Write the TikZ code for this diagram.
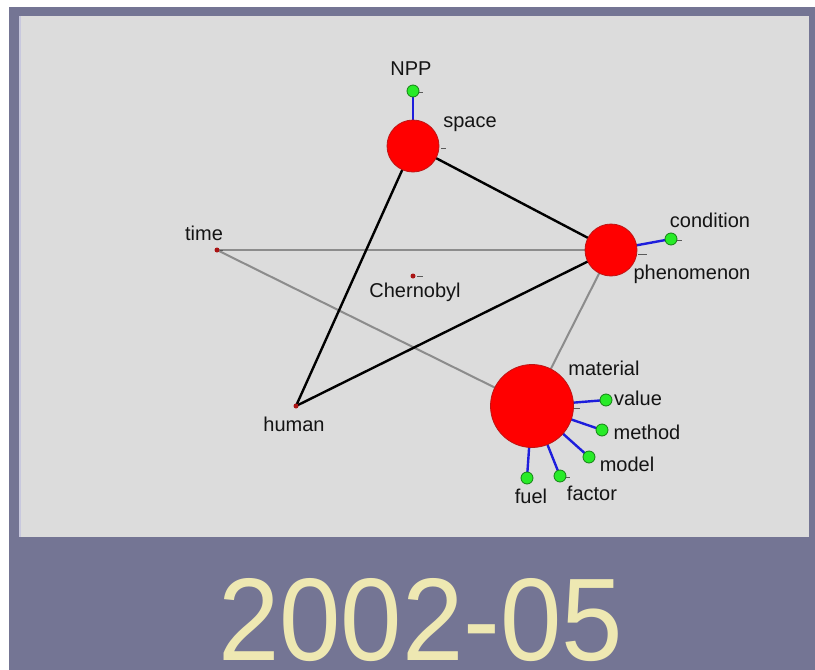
\documentclass[tikz,border=0pt]{standalone}
\usepackage{fontspec}
\setmainfont{Liberation Sans}
\setsansfont{Liberation Sans}
\pgfdeclarelayer{back}
\pgfdeclarelayer{edges}
\pgfsetlayers{back,edges,main}
\definecolor{frame}{RGB}{116,117,148}
\definecolor{panel}{RGB}{220,220,220}
\definecolor{paneledge}{RGB}{200,200,222}
\definecolor{bignode}{RGB}{255,0,0}
\definecolor{bigline}{RGB}{190,20,20}
\definecolor{leaf}{RGB}{40,235,40}
\definecolor{leafline}{RGB}{20,130,20}
\definecolor{dot}{RGB}{170,20,20}
\definecolor{blueedge}{RGB}{30,30,220}
\definecolor{grayedge}{RGB}{140,140,140}
\definecolor{labeltext}{RGB}{20,20,20}
\definecolor{yeartext}{RGB}{238,232,178}
\definecolor{tick}{RGB}{90,90,90}
\tikzset{
  hub/.style={circle,fill=bignode,draw=bigline,line width=0.8pt,inner sep=0pt},
  leafnode/.style={circle,fill=leaf,draw=leafline,line width=0.8pt,inner sep=0pt,minimum size=12pt},
  dotnode/.style={circle,fill=dot,inner sep=0pt,minimum size=5pt},
  lbl/.style={text=labeltext,font=\fontsize{20}{24}\selectfont,inner sep=0pt},
  strong/.style={draw=black,line width=2.4pt},
  weak/.style={draw=grayedge,line width=2pt},
  blue/.style={draw=blueedge,line width=2.4pt},
  tickmark/.style={draw=tick,line width=0.8pt}
}
\begin{document}
\begin{tikzpicture}[x=1pt,y=-1pt]
\useasboundingbox (0,0) rectangle (815,670);
\begin{pgfonlayer}{back}
\fill[white] (0,0) rectangle (815,670);
\fill[frame] (9,7) rectangle (815,670);
\fill[panel] (19,16) rectangle (809,537);
\draw[paneledge,line width=1.5pt] (19.75,16) -- (19.75,537);
\end{pgfonlayer}

% hubs
\node[hub,minimum size=52pt] (space) at (413,146) {};
\node[hub,minimum size=52pt] (phen) at (611,250) {};
\node[hub,minimum size=83pt] (mat) at (532,406) {};
% dots
\node[dotnode] (time) at (217,250) {};
\node[dotnode] (human) at (296,406) {};
\node[dotnode] (cher) at (413,276) {};
% leaves
\node[leafnode] (npp) at (413,91) {};
\node[leafnode] (cond) at (671,239) {};
\node[leafnode] (value) at (606,400) {};
\node[leafnode] (method) at (602,430) {};
\node[leafnode] (model) at (589,457) {};
\node[leafnode] (factor) at (560,476) {};
\node[leafnode] (fuel) at (527,478) {};

% ticks
\draw[tickmark] (space.east) ++(2,2) -- ++(5,0);
\draw[tickmark] (phen.east) ++(1,4) -- ++(9,0);
\draw[tickmark] (mat.east) ++(0,2) -- ++(6,0);
\draw[tickmark] (cher.east) ++(1,0) -- ++(6,0);
\draw[tickmark] (time.east) ++(0,0) -- ++(3,0);
\draw[tickmark] (npp.east) ++(0,1) -- ++(4,0);
\draw[tickmark] (cond.east) ++(0,1) -- ++(5,0);
\draw[tickmark] (factor.east) ++(0,1) -- ++(4,0);

% labels
\node[lbl] (lnpp) at (411,69) {NPP};
\node[lbl] (lspace) at (470,124) {space};
\node[lbl] (lcond) at (710,220) {condition};
\node[lbl] (lphen) at (692,274) {phenomenon};
\node[lbl] (lmat) at (604,368) {material};
\node[lbl] (lvalue) at (638,398) {value};
\node[lbl] (lmethod) at (647,432) {method};
\node[lbl] (lmodel) at (627,464) {model};
\node[lbl] (lfactor) at (592,493) {factor};
\node[lbl] (lfuel) at (531,496) {fuel};
\node[lbl] (ltime) at (204,233) {time};
\node[lbl] (lhuman) at (294,424) {human};
\node[lbl] (lcher) at (415,292) {Chernobyl};

\begin{pgfonlayer}{edges}
\draw[weak] (time.center) -- (phen.center);
\draw[weak] (time.center) -- (mat.center);
\draw[weak] (phen.center) -- (mat.center);
\draw[strong] (space.center) -- (phen.center);
\draw[strong] (space.center) -- (human.center);
\draw[strong] (human.center) -- (phen.center);
\draw[blue] (npp.center) -- (space.center);
\draw[blue] (cond.center) -- (phen.center);
\draw[blue] (value.center) -- (mat.center);
\draw[blue] (method.center) -- (mat.center);
\draw[blue] (model.center) -- (mat.center);
\draw[blue] (factor.center) -- (mat.center);
\draw[blue] (fuel.center) -- (mat.center);
\end{pgfonlayer}

% year
\node[text=yeartext,inner sep=0pt,anchor=south west] (year) at (218,662)
  {\resizebox{405pt}{82pt}{2002-05}};
\end{tikzpicture}
\end{document}
